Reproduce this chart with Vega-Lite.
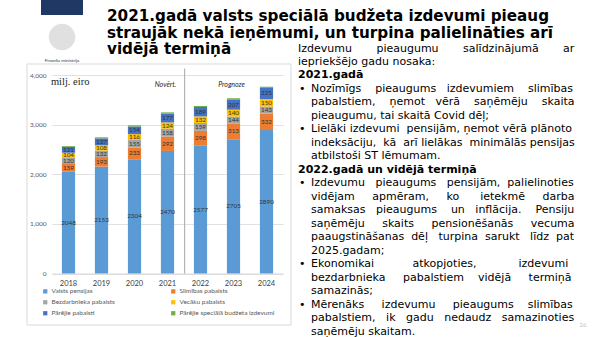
{
 "$schema": "https://vega.github.io/schema/vega-lite/v6.json",
 "width": 231,
 "height": 198.5,
 "autosize": {"type": "none"},
 "padding": {"left": 52, "top": 75, "right": 317, "bottom": 63.5},
 "background": "white",
 "config": {"view": {"stroke": null}},
 "datasets": {
  "bars": [
   {"year": "2018", "series": "Valsts pensijas", "k": 1, "value": 2048},
   {"year": "2018", "series": "Slimības pabalsts", "k": 2, "value": 159},
   {"year": "2018", "series": "Bezdarbnieka pabalsts", "k": 3, "value": 120},
   {"year": "2018", "series": "Vecāku pabalsts", "k": 4, "value": 104},
   {"year": "2018", "series": "Pārējie pabalsti", "k": 5, "value": 121},
   {"year": "2018", "series": "Pārējie speciālā budžeta izdevumi", "k": 6, "value": 18},
   {"year": "2019", "series": "Valsts pensijas", "k": 1, "value": 2153},
   {"year": "2019", "series": "Slimības pabalsts", "k": 2, "value": 193},
   {"year": "2019", "series": "Bezdarbnieka pabalsts", "k": 3, "value": 132},
   {"year": "2019", "series": "Vecāku pabalsts", "k": 4, "value": 108},
   {"year": "2019", "series": "Pārējie pabalsti", "k": 5, "value": 137},
   {"year": "2019", "series": "Pārējie speciālā budžeta izdevumi", "k": 6, "value": 21},
   {"year": "2020", "series": "Valsts pensijas", "k": 1, "value": 2304},
   {"year": "2020", "series": "Slimības pabalsts", "k": 2, "value": 233},
   {"year": "2020", "series": "Bezdarbnieka pabalsts", "k": 3, "value": 155},
   {"year": "2020", "series": "Vecāku pabalsts", "k": 4, "value": 116},
   {"year": "2020", "series": "Pārējie pabalsti", "k": 5, "value": 154},
   {"year": "2020", "series": "Pārējie speciālā budžeta izdevumi", "k": 6, "value": 24},
   {"year": "2021", "series": "Valsts pensijas", "k": 1, "value": 2470},
   {"year": "2021", "series": "Slimības pabalsts", "k": 2, "value": 292},
   {"year": "2021", "series": "Bezdarbnieka pabalsts", "k": 3, "value": 158},
   {"year": "2021", "series": "Vecāku pabalsts", "k": 4, "value": 124},
   {"year": "2021", "series": "Pārējie pabalsti", "k": 5, "value": 177},
   {"year": "2021", "series": "Pārējie speciālā budžeta izdevumi", "k": 6, "value": 26},
   {"year": "2022", "series": "Valsts pensijas", "k": 1, "value": 2577},
   {"year": "2022", "series": "Slimības pabalsts", "k": 2, "value": 298},
   {"year": "2022", "series": "Bezdarbnieka pabalsts", "k": 3, "value": 159},
   {"year": "2022", "series": "Vecāku pabalsts", "k": 4, "value": 132},
   {"year": "2022", "series": "Pārējie pabalsti", "k": 5, "value": 189},
   {"year": "2022", "series": "Pārējie speciālā budžeta izdevumi", "k": 6, "value": 21},
   {"year": "2023", "series": "Valsts pensijas", "k": 1, "value": 2705},
   {"year": "2023", "series": "Slimības pabalsts", "k": 2, "value": 313},
   {"year": "2023", "series": "Bezdarbnieka pabalsts", "k": 3, "value": 144},
   {"year": "2023", "series": "Vecāku pabalsts", "k": 4, "value": 140},
   {"year": "2023", "series": "Pārējie pabalsti", "k": 5, "value": 207},
   {"year": "2023", "series": "Pārējie speciālā budžeta izdevumi", "k": 6, "value": 22},
   {"year": "2024", "series": "Valsts pensijas", "k": 1, "value": 2890},
   {"year": "2024", "series": "Slimības pabalsts", "k": 2, "value": 332},
   {"year": "2024", "series": "Bezdarbnieka pabalsts", "k": 3, "value": 143},
   {"year": "2024", "series": "Vecāku pabalsts", "k": 4, "value": 150},
   {"year": "2024", "series": "Pārējie pabalsti", "k": 5, "value": 225},
   {"year": "2024", "series": "Pārējie speciālā budžeta izdevumi", "k": 6, "value": 24}
  ],
  "title": [
   {"line": 1, "text": "2021.gadā valsts speciālā budžeta izdevumi pieaug"},
   {"line": 2, "text": "straujāk nekā ieņēmumi, un turpina palielināties arī"},
   {"line": 3, "text": "vidējā termiņā"}
  ],
  "body": [
   {"line": 1, "kind": "intro", "text": "Izdevumu\u00a0\u00a0\u00a0\u00a0\u00a0\u00a0\u00a0pieaugumu\u00a0\u00a0\u00a0\u00a0\u00a0\u00a0\u00a0salīdzinājumā\u00a0\u00a0\u00a0\u00a0\u00a0\u00a0\u00a0ar"},
   {"line": 2, "kind": "intro", "text": "iepriekšējo gadu nosaka:"},
   {"line": 3, "kind": "head", "text": "2021.gadā"},
   {"line": 4, "kind": "item", "text": "Nozīmīgs\u00a0\u00a0\u00a0\u00a0pieaugums\u00a0\u00a0\u00a0izdevumiem\u00a0\u00a0\u00a0\u00a0slimības"},
   {"line": 5, "kind": "cont", "text": "pabalstiem,\u00a0\u00a0\u00a0\u00a0ņemot\u00a0\u00a0\u00a0vērā\u00a0\u00a0\u00a0\u00a0saņēmēju\u00a0\u00a0\u00a0\u00a0skaita"},
   {"line": 6, "kind": "cont", "text": "pieaugumu, tai skaitā Covid dēļ;"},
   {"line": 7, "kind": "item", "text": "Lielāki\u00a0izdevumi\u00a0\u00a0pensijām,\u00a0ņemot\u00a0vērā\u00a0plānoto"},
   {"line": 8, "kind": "cont", "text": "indeksāciju,\u00a0\u00a0kā\u00a0\u00a0arī\u00a0lielākas\u00a0\u00a0minimālās\u00a0pensijas"},
   {"line": 9, "kind": "cont", "text": "atbilstoši ST lēmumam."},
   {"line": 10, "kind": "head", "text": "2022.gadā un vidējā termiņā"},
   {"line": 11, "kind": "item", "text": "Izdevumu\u00a0\u00a0\u00a0pieaugums\u00a0\u00a0\u00a0pensijām,\u00a0\u00a0palielinoties"},
   {"line": 12, "kind": "cont", "text": "vidējam\u00a0\u00a0\u00a0\u00a0\u00a0apmēram,\u00a0\u00a0\u00a0\u00a0\u00a0ko\u00a0\u00a0\u00a0\u00a0\u00a0\u00a0ietekmē\u00a0\u00a0\u00a0\u00a0\u00a0darba"},
   {"line": 13, "kind": "cont", "text": "samaksas\u00a0\u00a0\u00a0pieaugums\u00a0\u00a0\u00a0\u00a0un\u00a0\u00a0\u00a0inflācija.\u00a0\u00a0\u00a0\u00a0Pensiju"},
   {"line": 14, "kind": "cont", "text": "saņēmēju\u00a0\u00a0\u00a0\u00a0\u00a0skaits\u00a0\u00a0\u00a0\u00a0\u00a0pensionēšanās\u00a0\u00a0\u00a0\u00a0\u00a0vecuma"},
   {"line": 15, "kind": "cont", "text": "paaugstināšanas\u00a0\u00a0dēļ\u00a0\u00a0\u00a0turpina\u00a0\u00a0sarukt\u00a0\u00a0\u00a0līdz\u00a0\u00a0pat"},
   {"line": 16, "kind": "cont", "text": "2025.gadam;"},
   {"line": 17, "kind": "item", "text": "Ekonomikai\u00a0\u00a0\u00a0\u00a0\u00a0\u00a0\u00a0\u00a0\u00a0\u00a0\u00a0atkopjoties,\u00a0\u00a0\u00a0\u00a0\u00a0\u00a0\u00a0\u00a0\u00a0\u00a0\u00a0\u00a0izdevumi"},
   {"line": 18, "kind": "cont", "text": "bezdarbnieka\u00a0\u00a0\u00a0\u00a0\u00a0pabalstiem\u00a0\u00a0\u00a0\u00a0vidējā\u00a0\u00a0\u00a0\u00a0\u00a0termiņā"},
   {"line": 19, "kind": "cont", "text": "samazinās;"},
   {"line": 20, "kind": "item", "text": "Mērenāks\u00a0\u00a0\u00a0\u00a0\u00a0izdevumu\u00a0\u00a0\u00a0\u00a0\u00a0pieaugums\u00a0\u00a0\u00a0\u00a0slimības"},
   {"line": 21, "kind": "cont", "text": "pabalstiem,\u00a0\u00a0\u00a0ik\u00a0\u00a0\u00a0gadu\u00a0\u00a0\u00a0nedaudz\u00a0\u00a0\u00a0samazinoties"},
   {"line": 22, "kind": "cont", "text": "saņēmēju skaitam."}
  ]
 },
 "layer": [
  {
   "data": {"values": [{}]},
   "mark": {"type": "rect", "filled": false, "stroke": "#d9d9d9", "strokeWidth": 1},
   "encoding": {"x": {"value": -25}, "x2": {"value": 239}, "y": {"value": -11}, "y2": {"value": 250}}
  },
  {
   "data": {"name": "bars"},
   "encoding": {
    "x": {"field": "year", "type": "nominal", "scale": {"paddingInner": 0.6, "paddingOuter": 0.3},
     "axis": {"title": null, "labelAngle": 0, "ticks": false, "domainColor": "#d9d9d9", "labelFont": "Lato", "labelFontSize": 7.5, "labelColor": "#404040", "labelPadding": 6}}
   },
   "layer": [
    {
     "mark": {"type": "bar"},
     "encoding": {
      "y": {"field": "value", "type": "quantitative", "stack": "zero", "scale": {"domain": [0, 4000], "nice": false},
       "axis": {"values": [0, 500, 1000, 1500, 2000, 2500, 3000, 3500, 4000], "title": null, "domain": false, "ticks": false, "labelFont": "Lato", "labelFontSize": 6.5, "labelColor": "#595959", "labelPadding": 6, "gridColor": "#d9d9d9", "gridWidth": 0.8}},
      "color": {"field": "series", "type": "nominal",
       "scale": {"domain": ["Valsts pensijas", "Slimības pabalsts", "Bezdarbnieka pabalsts", "Vecāku pabalsts", "Pārējie pabalsti", "Pārējie speciālā budžeta izdevumi"],
        "range": ["#5b9bd5", "#ed7d31", "#a5a5a5", "#ffc000", "#4472c4", "#70ad47"]},
       "legend": {"orient": "none", "legendX": -10, "legendY": 213, "direction": "horizontal", "columns": 2, "title": null, "symbolType": "square", "symbolSize": 18, "symbolStrokeWidth": 0, "labelFont": "Lato", "labelFontSize": 6.5, "labelColor": "#595959", "rowPadding": 4, "columnPadding": 55, "labelOffset": 3}},
      "order": {"field": "k", "type": "quantitative"}
     }
    },
    {
     "transform": [{"filter": "datum.k < 6"}],
     "mark": {"type": "text", "font": "Lato", "fontSize": 6.3, "color": "#333333", "baseline": "middle"},
     "encoding": {
      "y": {"field": "value", "type": "quantitative", "stack": "zero", "bandPosition": 0.5},
      "order": {"field": "k", "type": "quantitative"},
      "text": {"field": "value", "type": "quantitative", "format": "d"}
     }
    },
    {
     "data": {"values": [{}]},
     "mark": {"type": "rule", "color": "#a6a6a6", "strokeWidth": 1},
     "encoding": {"x": {"datum": "2021", "bandPosition": 1.8}, "y": {"datum": 4130}, "y2": {"datum": 0}}
    },
    {
     "data": {"values": [{"label": "milj. eiro"}]},
     "mark": {"type": "text", "font": "Liberation Serif", "fontSize": 10.5, "color": "#262626", "align": "left", "baseline": "middle", "dx": -11},
     "encoding": {"x": {"datum": "2018", "bandPosition": 0}, "y": {"datum": 3865}, "text": {"field": "label"}}
    },
    {
     "data": {"values": [{"label": "Novērt.", "year": "2021"}, {"label": "Prognoze", "year": "2023"}]},
     "mark": {"type": "text", "font": "Lato", "fontSize": 7, "fontStyle": "italic", "color": "#262626", "baseline": "middle", "dx": -2},
     "encoding": {"x": {"field": "year"}, "y": {"datum": 3795}, "text": {"field": "label"}}
    }
   ]
  },
  {
   "data": {"name": "title"},
   "mark": {"type": "text", "font": "DejaVu Sans", "fontWeight": "bold", "fontSize": 15.2, "align": "left", "baseline": "middle", "color": "#000000"},
   "encoding": {"x": {"value": 55}, "y": {"field": "line", "type": "quantitative", "scale": {"domain": [1, 3], "range": [-59, -26]}, "axis": null}, "text": {"field": "text"}}
  },
  {
   "data": {"name": "body"},
   "transform": [{"filter": "datum.kind == 'intro'"}],
   "mark": {"type": "text", "font": "DejaVu Sans", "fontSize": 11, "align": "left", "baseline": "middle", "color": "#000000"},
   "encoding": {"x": {"value": 246}, "y": {"field": "line", "type": "quantitative", "scale": {"domain": [1, 22], "range": [-26.5, 256.5]}, "axis": null}, "text": {"field": "text"}}
  },
  {
   "data": {"name": "body"},
   "transform": [{"filter": "datum.kind == 'head'"}],
   "mark": {"type": "text", "font": "DejaVu Sans", "fontWeight": "bold", "fontSize": 11, "align": "left", "baseline": "middle", "color": "#000000"},
   "encoding": {"x": {"value": 246}, "y": {"field": "line", "type": "quantitative", "scale": {"domain": [1, 22], "range": [-26.5, 256.5]}, "axis": null}, "text": {"field": "text"}}
  },
  {
   "data": {"name": "body"},
   "transform": [{"filter": "datum.kind == 'item' || datum.kind == 'cont'"}],
   "mark": {"type": "text", "font": "DejaVu Sans", "fontSize": 11, "align": "left", "baseline": "middle", "color": "#000000"},
   "encoding": {"x": {"value": 259}, "y": {"field": "line", "type": "quantitative", "scale": {"domain": [1, 22], "range": [-26.5, 256.5]}, "axis": null}, "text": {"field": "text"}}
  },
  {
   "data": {"name": "body"},
   "transform": [{"filter": "datum.kind == 'item'"}],
   "mark": {"type": "text", "font": "DejaVu Sans", "fontSize": 11, "align": "left", "baseline": "middle", "color": "#000000", "text": "•"},
   "encoding": {"x": {"value": 247}, "y": {"field": "line", "type": "quantitative", "scale": {"domain": [1, 22], "range": [-26.5, 256.5]}, "axis": null}}
  },
  {
   "data": {"values": [{}]},
   "mark": {"type": "rect", "fill": "#1f3864"},
   "encoding": {"x": {"value": -11}, "x2": {"value": 31}, "y": {"value": -75}, "y2": {"value": -60}}
  },
  {
   "data": {"values": [{}]},
   "mark": {"type": "point", "shape": "circle", "filled": true, "fill": "#e0e0e0", "size": 700, "opacity": 1},
   "encoding": {"x": {"value": 10}, "y": {"value": -38}}
  },
  {
   "data": {"values": [{"t": "Finanšu ministrija", "p": "26"}]},
   "layer": [
    {"mark": {"type": "text", "font": "Lato", "fontSize": 4.5, "color": "#333333", "baseline": "middle"},
     "encoding": {"x": {"value": 10}, "y": {"value": -14}, "text": {"field": "t"}}},
    {"mark": {"type": "text", "font": "Lato", "fontSize": 6, "color": "#bfbfbf", "baseline": "middle"},
     "encoding": {"x": {"value": 531}, "y": {"value": 250}, "text": {"field": "p"}}}
   ]
  }
 ],
 "resolve": {"scale": {"x": "independent", "y": "independent"}}
}
